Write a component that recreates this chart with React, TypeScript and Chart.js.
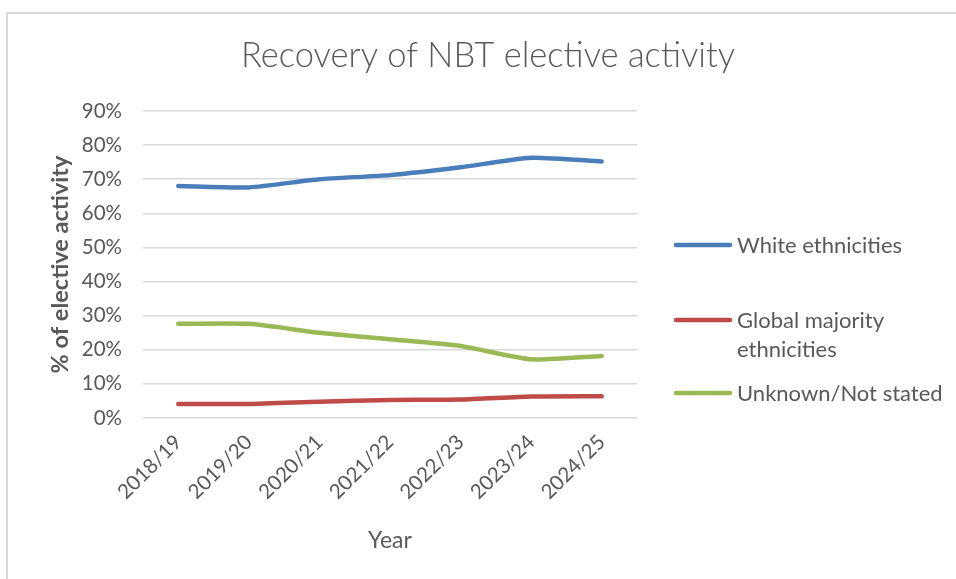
import { useEffect, useRef } from "react";
import { Chart, registerables } from "chart.js";
import type { Plugin } from "chart.js";

Chart.register(...registerables);

// Financial years on the category axis
const years = ["2018/19", "2019/20", "2020/21", "2021/22", "2022/23", "2023/24", "2024/25"];

// Share of elective activity (%) by ethnicity group
const whiteEthnicities = [68.0, 67.6, 70.0, 71.2, 73.5, 76.3, 75.2];
const globalMajorityEthnicities = [4.1, 4.1, 4.8, 5.3, 5.4, 6.3, 6.4];
const unknownNotStated = [27.6, 27.6, 25.0, 23.1, 21.1, 17.2, 18.2];

const seriesNames = ["White ethnicities", "Global majority ethnicities", "Unknown/Not stated"];
const seriesColors = ["#4A7EBB", "#BE4B48", "#98B954"];

const yMin = 0;
const yMax = 90;
const yStep = 10;

const chartTitle = "Recovery of NBT elective activity";
const xAxisTitle = "Year";
const yAxisTitle = "% of elective activity";

const FONT = "Lato, 'Open Sans', sans-serif";
const TEXT = "#595959";
const GRID = "#d9d9d9";

// Heading drawn centred above the plot
const headingPlugin: Plugin<"line"> = {
  id: "heading",
  afterDraw(chart) {
    const ctx = chart.ctx;
    ctx.save();
    ctx.font = `300 34.5px ${FONT}`;
    ctx.fillStyle = TEXT;
    ctx.textAlign = "center";
    ctx.textBaseline = "alphabetic";
    ctx.fillText(chartTitle, 488, 67);
    ctx.restore();
  },
};

function wrapText(ctx: CanvasRenderingContext2D, text: string, maxWidth: number): string[] {
  const words = text.split(" ");
  const lines: string[] = [];
  let current = "";
  for (const w of words) {
    const next = current ? `${current} ${w}` : w;
    if (current && ctx.measureText(next).width > maxWidth) {
      lines.push(current);
      current = w;
    } else {
      current = next;
    }
  }
  if (current) lines.push(current);
  return lines;
}

// Legend column on the right, with wrapped labels
const sideLegendPlugin: Plugin<"line"> = {
  id: "sideLegend",
  afterDraw(chart) {
    const ctx = chart.ctx;
    const rowY = [245, 320, 393];
    const lineStart = 676;
    const lineEnd = 730;
    const textX = 737;
    const lineGap = 29;
    ctx.save();
    ctx.font = `22px ${FONT}`;
    ctx.textAlign = "left";
    ctx.textBaseline = "middle";
    chart.data.datasets.forEach((ds, i) => {
      const y = rowY[i];
      ctx.strokeStyle = ds.borderColor as string;
      ctx.lineWidth = 4.5;
      ctx.lineCap = "round";
      ctx.beginPath();
      ctx.moveTo(lineStart, y);
      ctx.lineTo(lineEnd, y);
      ctx.stroke();
      ctx.fillStyle = TEXT;
      const lines = wrapText(ctx, String(ds.label ?? ""), 225);
      lines.forEach((ln, j) => ctx.fillText(ln, textX, y + 1 + j * lineGap));
    });
    ctx.restore();
  },
};

export default function App() {
  const canvasRef = useRef<HTMLCanvasElement | null>(null);

  useEffect(() => {
    const canvas = canvasRef.current;
    if (!canvas) return;
    const values = [whiteEthnicities, globalMajorityEthnicities, unknownNotStated];
    const chart = new Chart(canvas, {
      type: "line",
      data: {
        labels: years,
        datasets: values.map((data, i) => ({
          label: seriesNames[i],
          data,
          borderColor: seriesColors[i],
          backgroundColor: seriesColors[i],
          borderWidth: 4.5,
          borderCapStyle: "round" as const,
          borderJoinStyle: "round" as const,
          pointRadius: 0,
          tension: 0.2,
          fill: false,
        })),
      },
      options: {
        responsive: false,
        animation: false,
        devicePixelRatio: 1,
        layout: { padding: { left: 0, top: 111, right: 319, bottom: 0 } },
        plugins: {
          legend: { display: false },
          title: { display: false },
          tooltip: { enabled: false },
        },
        scales: {
          x: {
            offset: true,
            grid: { display: false, drawTicks: false },
            border: { display: false },
            ticks: {
              color: TEXT,
              font: { family: FONT, size: 20.5 },
              minRotation: 45,
              maxRotation: 45,
              padding: 12,
              autoSkip: false,
            },
            title: {
              display: true,
              text: xAxisTitle,
              color: TEXT,
              font: { family: FONT, size: 23 },
              padding: { top: 0, bottom: 25 },
            },
            afterFit(scale) {
              scale.height = 161;
            },
          },
          y: {
            min: yMin,
            max: yMax,
            ticks: {
              stepSize: yStep,
              color: TEXT,
              font: { family: FONT, size: 20.5 },
              padding: 21,
              callback: (v) => `${v}%`,
            },
            grid: { color: GRID, lineWidth: 1.5, drawTicks: false },
            border: { display: false },
            title: {
              display: true,
              text: yAxisTitle,
              color: TEXT,
              font: { family: FONT, size: 23.5, weight: "bold" },
              padding: { top: 46, bottom: 0 },
            },
            afterFit(scale) {
              scale.width = 143;
            },
          },
        },
      },
      plugins: [headingPlugin, sideLegendPlugin],
    });
    return () => chart.destroy();
  }, []);

  return (
    <div
      style={{
        position: "fixed",
        left: 0,
        top: 0,
        width: 956,
        height: 579,
        overflow: "hidden",
        background: "#ffffff",
      }}
    >
      <div
        style={{
          position: "absolute",
          left: 6,
          top: 12,
          width: 1000,
          height: 1000,
          borderLeft: `2px solid ${GRID}`,
          borderTop: `2px solid ${GRID}`,
        }}
      />
      <canvas
        ref={canvasRef}
        width={956}
        height={579}
        style={{ position: "absolute", left: 0, top: 0, display: "block" }}
      />
    </div>
  );
}
